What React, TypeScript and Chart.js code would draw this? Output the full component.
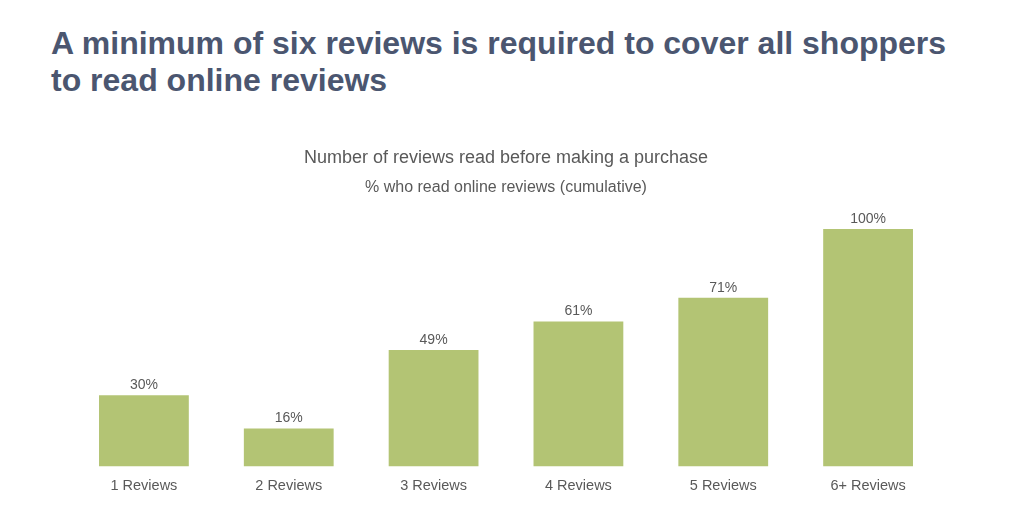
import { useEffect, useRef } from "react"
import { Chart, registerables, type Plugin } from "chart.js"

Chart.register(...registerables)

const categories = ["1 Reviews", "2 Reviews", "3 Reviews", "4 Reviews", "5 Reviews", "6+ Reviews"]
const cumulativeShare = [30, 16, 49, 61, 71, 100]

const headlineLines = ["A minimum of six reviews is required to cover all shoppers", "to read online reviews"]
const chartTitle = "Number of reviews read before making a purchase"
const chartSubtitle = "% who read online reviews (cumulative)"

const FONT = "'Liberation Sans', Arial, Helvetica, sans-serif"
const TEXT_GRAY = "#595959"
const BAR_GREEN = "#b3c474"

// draws the % above each bar
const valueLabels: Plugin<"bar"> = {
  id: "valueLabels",
  afterDatasetsDraw(chart) {
    const ctx = chart.ctx
    const meta = chart.getDatasetMeta(0)
    ctx.save()
    ctx.font = `14px ${FONT}`
    ctx.fillStyle = TEXT_GRAY
    ctx.textAlign = "center"
    ctx.textBaseline = "middle"
    meta.data.forEach((bar, i) => {
      const v = chart.data.datasets[0].data[i] as number
      ctx.fillText(v + "%", bar.x, bar.y - 10)
    })
    ctx.restore()
  },
}

function ReviewsChart() {
  const canvasRef = useRef<HTMLCanvasElement>(null)
  const chartRef = useRef<Chart<"bar"> | null>(null)

  useEffect(() => {
    if (!canvasRef.current) return
    const ctx = canvasRef.current.getContext("2d")
    if (!ctx) return

    if (chartRef.current) chartRef.current.destroy()

    chartRef.current = new Chart(ctx, {
      type: "bar",
      data: {
        labels: categories,
        datasets: [
          {
            data: cumulativeShare,
            backgroundColor: BAR_GREEN,
            categoryPercentage: 0.62,
            barPercentage: 1,
          },
        ],
      },
      options: {
        animation: false,
        responsive: true,
        maintainAspectRatio: false,
        layout: {
          padding: { left: 71.5, right: 83.5, top: 0, bottom: 23 },
        },
        scales: {
          y: {
            display: false,
            min: 0,
            max: 100,
          },
          x: {
            grid: { display: false, drawTicks: false },
            border: { display: false },
            ticks: {
              color: TEXT_GRAY,
              padding: 10.6,
              font: { family: FONT, size: 14.5 },
            },
          },
        },
        plugins: {
          legend: { display: false },
          tooltip: { enabled: false },
          title: {
            display: true,
            text: chartTitle,
            color: TEXT_GRAY,
            font: { family: FONT, size: 18, weight: "normal" },
            padding: { top: 17, bottom: 9.6 },
          },
          subtitle: {
            display: true,
            text: chartSubtitle,
            color: TEXT_GRAY,
            font: { family: FONT, size: 16 },
            padding: { top: 0, bottom: 31.6 },
          },
        },
      },
      plugins: [valueLabels],
    })

    return () => {
      if (chartRef.current) {
        chartRef.current.destroy()
        chartRef.current = null
      }
    }
  }, [])

  return (
    <div style={{ position: "absolute", left: 0, top: 130, width: 1024, height: 398 }}>
      <canvas ref={canvasRef}></canvas>
    </div>
  )
}

export default function App() {
  return (
    <div style={{ position: "fixed", left: 0, top: 0, width: 1024, height: 528, background: "#fff", overflow: "hidden" }}>
      <div
        style={{
          position: "absolute",
          left: 51,
          top: 25,
          whiteSpace: "nowrap",
          fontFamily: FONT,
          fontWeight: "bold",
          fontSize: 32,
          lineHeight: "37px",
          color: "#4b5670",
        }}
      >
        {headlineLines.map((line) => (
          <div key={line}>{line}</div>
        ))}
      </div>
      <ReviewsChart />
    </div>
  )
}
